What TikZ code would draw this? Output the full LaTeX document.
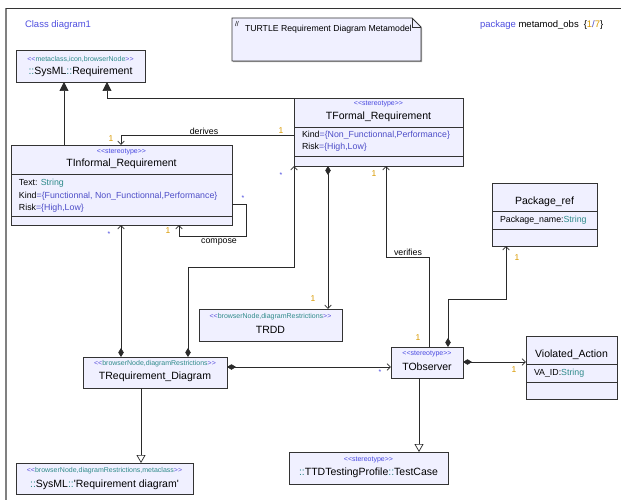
\documentclass[tikz,border=0pt]{standalone}
\usepackage{fontspec}
\newfontfamily\umlfont{Liberation Sans}
\usetikzlibrary{arrows.meta,shadows}
\definecolor{boxfill}{HTML}{F0F0FF}
\definecolor{boxline}{HTML}{333333}
\definecolor{teal2}{HTML}{2E8A8A}
\definecolor{brk}{HTML}{5A50DC}
\definecolor{stblue}{HTML}{4848E0}
\definecolor{valblue}{HTML}{4E4EC8}
\definecolor{multor}{HTML}{D99A00}
\definecolor{titleblue}{HTML}{5050E0}
\definecolor{linecol}{HTML}{2A2A2A}
\newcommand\fsz[1]{\fontsize{#1}{#1}\selectfont}
\newcommand\stb[1]{\textcolor{brk}{<<}\textcolor{teal2}{#1}\textcolor{brk}{>>}}
\newcommand\sts{\textcolor{stblue}{<<stereotype>>}}
\newcommand\dc{\textcolor{teal2}{::}}
\begin{document}
\begin{tikzpicture}[x=1pt,y=-1pt,
  every node/.style={font=\umlfont, inner sep=0pt, outer sep=0pt},
  cls/.style={draw=boxline, fill=boxfill, line width=0.8pt, rectangle, anchor=north west,
    drop shadow={shadow xshift=1.2pt, shadow yshift=-1.2pt, opacity=0.35, fill=black}},
  sttext/.style={font=\umlfont\fsz{7}},
  nmtext/.style={font=\umlfont\fsz{10.5}},
  attext/.style={font=\umlfont\fsz{8.8}, anchor=west},
  lbl/.style={font=\umlfont\fsz{8.8}},
  mult/.style={font=\umlfont\fsz{8.5}, text=multor},
  mstar/.style={font=\umlfont\fsz{7}, text=stblue},
  conn/.style={draw=linecol, line width=0.7pt},
  ext/.style={conn, -{Triangle[length=9pt,width=9pt]}},
  gen/.style={conn, -{Triangle[open,length=8pt,width=9pt,fill=white]}},
  assoc/.style={conn, -{Straight Barb[length=3.5pt,width=6.5pt]}},
  comp/.style={conn, {Diamond[length=9pt,width=5.5pt]}-{Straight Barb[length=3.5pt,width=6.5pt]}},
  divl/.style={draw=boxline, line width=0.8pt}
]
\useasboundingbox (0,0) rectangle (621,500);
\fill[white] (0,0) rectangle (621,500);
% frame
\draw[draw=gray, line width=1.5pt] (6,500) -- (6,8);
\draw[draw=boxline, line width=0.8pt] (6,8) -- (621,8);

\node[font=\umlfont\fsz{9.5}, text=titleblue, anchor=west] (title) at (25,25) {Class diagram1};
\node[font=\umlfont\fsz{9.5}, anchor=west] (pkg) at (480,25)
  {\textcolor{titleblue}{package} metamod\_obs\hspace{5pt}\{\textcolor{multor}{1}\textcolor{valblue}{/}\textcolor{multor}{7}\}};

% note
\draw[draw=boxline, fill=boxfill, line width=0.8pt,
  drop shadow={shadow xshift=1.2pt, shadow yshift=-1.2pt, opacity=0.35, fill=black}]
  (232,18) -- (412,18) -- (421,27) -- (421,61) -- (232,61) -- cycle;
\draw[draw=boxline, line width=0.6pt] (412,18) -- (412,27) -- (421,27);
\node[font=\umlfont\fsz{7}, anchor=west] (slash) at (235,23.5) {//};
\node[font=\umlfont\fsz{8.7}, anchor=west] (notetext) at (245,29) {TURTLE Requirement Diagram Metamodel};

% classes
\node[cls, minimum width=129pt, minimum height=32pt] (SysReq) at (16,50) {};
\node[sttext] (SysReqSt) at ([yshift=-9pt]SysReq.north) {\stb{metaclass,icon,browserNode}};
\node[nmtext] (SysReqNm) at ([yshift=-22pt]SysReq.north) {\dc SysML\dc Requirement};

\node[cls, minimum width=169pt, minimum height=68pt] (TFormal) at (294,98) {};
\node[sttext] (TFormalSt) at ([yshift=-6pt]TFormal.north) {\sts};
\node[nmtext] (TFormalNm) at ([yshift=-19pt]TFormal.north) {TFormal\_Requirement};
\draw[divl] ([yshift=-29pt]TFormal.north west) -- ([yshift=-29pt]TFormal.north east);
\draw[divl] ([yshift=-58pt]TFormal.north west) -- ([yshift=-58pt]TFormal.north east);
\node[attext] (TFormalA1) at ([xshift=8pt,yshift=-37pt]TFormal.north west) {Kind\textcolor{valblue}{=\{Non\_Functionnal,Performance\}}};
\node[attext] (TFormalA2) at ([xshift=8pt,yshift=-49pt]TFormal.north west) {Risk\textcolor{valblue}{=\{High,Low\}}};

\node[cls, minimum width=221pt, minimum height=80pt] (TInf) at (11,145) {};
\node[sttext] (TInfSt) at ([yshift=-7pt]TInf.north) {\sts};
\node[nmtext] (TInfNm) at ([yshift=-19pt]TInf.north) {TInformal\_Requirement};
\draw[divl] ([yshift=-29pt]TInf.north west) -- ([yshift=-29pt]TInf.north east);
\draw[divl] ([yshift=-71pt]TInf.north west) -- ([yshift=-71pt]TInf.north east);
\node[attext] (TInfA1) at ([xshift=8pt,yshift=-38pt]TInf.north west) {Text: \textcolor{teal2}{String}};
\node[attext] (TInfA2) at ([xshift=8pt,yshift=-51pt]TInf.north west) {Kind\textcolor{valblue}{=\{Functionnal, Non\_Functionnal,Performance\}}};
\node[attext] (TInfA3) at ([xshift=8pt,yshift=-63pt]TInf.north west) {Risk\textcolor{valblue}{=\{High,Low\}}};

\node[cls, minimum width=143pt, minimum height=32pt] (TRDD) at (199,309) {};
\node[sttext] (TRDDSt) at ([yshift=-8pt]TRDD.north) {\stb{browserNode,diagramRestrictions}};
\node[nmtext] (TRDDNm) at ([yshift=-21pt]TRDD.north) {TRDD};

\node[cls, minimum width=144pt, minimum height=31pt] (TRD) at (83,357) {};
\node[sttext] (TRDSt) at ([yshift=-7pt]TRD.north) {\stb{browserNode,diagramRestrictions}};
\node[nmtext] (TRDNm) at ([yshift=-20pt]TRD.north) {TRequirement\_Diagram};

\node[cls, minimum width=72pt, minimum height=31pt] (TObs) at (391,347) {};
\node[sttext] (TObsSt) at ([yshift=-7pt]TObs.north) {\sts};
\node[nmtext] (TObsNm) at ([yshift=-20pt]TObs.north) {TObserver};

\node[cls, minimum width=105pt, minimum height=63pt] (PkgRef) at (492,183) {};
\node[nmtext] (PkgRefNm) at ([yshift=-19pt]PkgRef.north) {Package\_ref};
\draw[divl] ([yshift=-28pt]PkgRef.north west) -- ([yshift=-28pt]PkgRef.north east);
\draw[divl] ([yshift=-46pt]PkgRef.north west) -- ([yshift=-46pt]PkgRef.north east);
\node[attext] (PkgRefA1) at ([xshift=8pt,yshift=-37pt]PkgRef.north west) {Package\_name:\textcolor{teal2}{String}};

\node[cls, minimum width=91pt, minimum height=63pt] (VA) at (526,336) {};
\node[nmtext] (VANm) at ([yshift=-19pt]VA.north) {Violated\_Action};
\draw[divl] ([yshift=-28pt]VA.north west) -- ([yshift=-28pt]VA.north east);
\draw[divl] ([yshift=-46pt]VA.north west) -- ([yshift=-46pt]VA.north east);
\node[attext] (VAA1) at ([xshift=8pt,yshift=-37pt]VA.north west) {VA\_ID:\textcolor{teal2}{String}};

\node[cls, minimum width=159pt, minimum height=32pt] (TestCase) at (289,452) {};
\node[sttext] (TestCaseSt) at ([yshift=-8pt]TestCase.north) {\sts};
\node[nmtext] (TestCaseNm) at ([yshift=-21pt]TestCase.north) {\dc TTDTestingProfile\dc TestCase};

\node[cls, minimum width=177pt, minimum height=31pt] (SysRD) at (16,463) {};
\node[sttext] (SysRDSt) at ([yshift=-8pt]SysRD.north) {\stb{browserNode,diagramRestrictions,metaclass}};
\node[nmtext] (SysRDNm) at ([yshift=-22pt]SysRD.north) {\dc SysML\dc 'Requirement diagram'};

% connectors
\draw[ext] ([xshift=53pt]TInf.north west) -- ([xshift=53pt]TInf.north west |- SysReq.south);
\draw[ext] (TFormal.north west) -| ([xshift=91pt]SysReq.south west);
\draw[assoc] ([yshift=-37pt]TFormal.north west) -| ([xshift=110pt]TInf.north west);
\draw[assoc] ([yshift=-59pt]TInf.north east) -- ++(14,0) |- ([xshift=168pt,yshift=-11pt]TInf.south west) -- ([xshift=168pt]TInf.south west);
\draw[comp] ([xshift=38pt]TRD.north west) -- ([xshift=38pt]TRD.north west |- TInf.south);
\draw[comp] ([xshift=105pt]TRD.north west) |- ([yshift=-101pt]TFormal.south west) -- (TFormal.south west);
\draw[comp] ([xshift=34pt]TFormal.south west) -- ([xshift=34pt]TFormal.south west |- TRDD.north);
\draw[comp] ([yshift=-10pt]TRD.north east) -- ([yshift=-10pt]TRD.north east -| TObs.west);
\draw[assoc] ([xshift=38pt]TObs.north west) |- ([xshift=92pt,yshift=-91pt]TFormal.south west) -- ([xshift=92pt]TFormal.south west);
\draw[comp] ([xshift=57pt]TObs.north west) |- ([xshift=14pt,yshift=-53pt]PkgRef.south west) -- ([xshift=14pt]PkgRef.south west);
\draw[comp] ([yshift=-15pt]TObs.north east) -- ([yshift=-15pt]TObs.north east -| VA.west);
\draw[gen] ([xshift=28pt]TObs.south west) -- ([xshift=28pt]TObs.south west |- TestCase.north);
\draw[gen] ([xshift=58pt]TRD.south west) -- ([xshift=58pt]TRD.south west |- SysRD.north);

% labels
\node[lbl] (derives) at (204,131) {derives};
\node[mult] (m1) at (281,131) {1};
\node[mult] (m2) at (111,139) {1};
\node[mstar] (s1) at (243,198) {*};
\node[mult] (m3) at (168,231) {1};
\node[lbl] (compose) at (219,242.5) {compose};
\node[mstar] (s2) at (109,234) {*};
\node[mstar] (s3) at (281,175) {*};
\node[mult] (m4) at (313,299) {1};
\node[mstar] (s4) at (380,372) {*};
\node[lbl] (verifies) at (408,252) {verifies};
\node[mult] (m5) at (374,174) {1};
\node[mult] (m6) at (418,338) {1};
\node[mult] (m7) at (517,258) {1};
\node[mult] (m8) at (514,370) {1};
\end{tikzpicture}
\end{document}
